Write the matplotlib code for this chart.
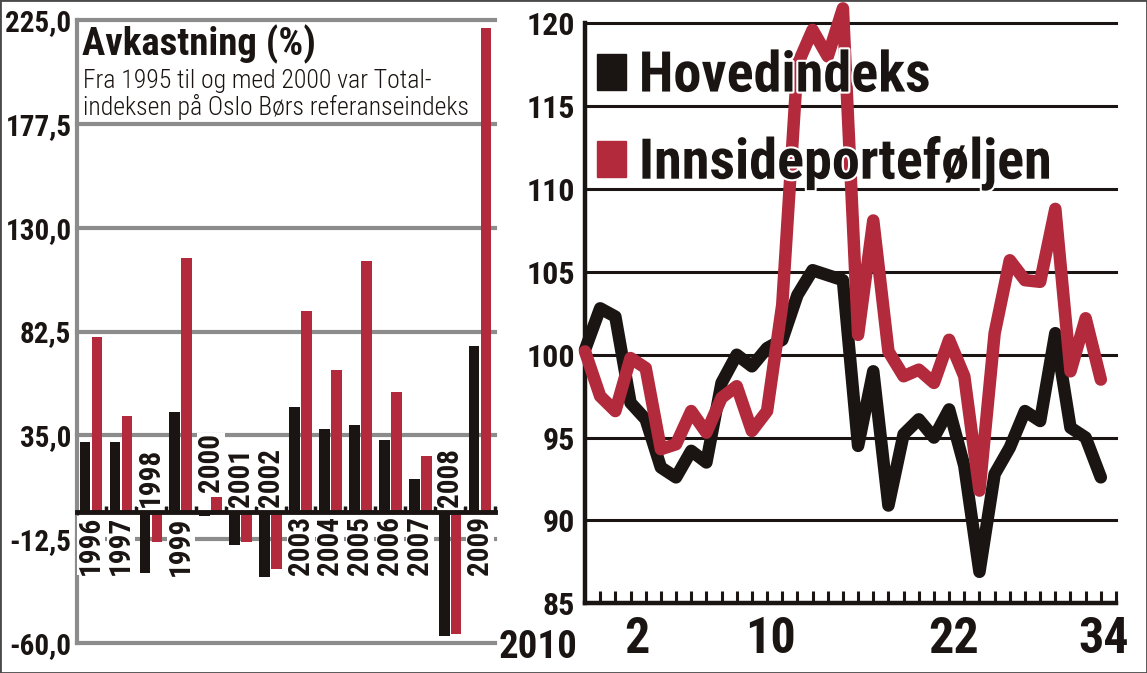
import matplotlib
matplotlib.use("Agg")
import matplotlib.pyplot as plt  # noqa: E402
import matplotlib.patheffects as pe  # noqa: E402
import numpy as np  # noqa: E402
from matplotlib import font_manager  # noqa: E402
from matplotlib.patches import Patch, Rectangle  # noqa: E402

BLACK = "#1a1512"
RED = "#b22a3b"
GREY = "#8c8c8c"

_installed = {f.name for f in font_manager.fontManager.ttflist}


def pick(*cands):
    for c in cands:
        if c in _installed:
            return c
    return "DejaVu Sans"


COND = pick("Roboto Condensed", "Barlow Condensed", "IBM Plex Sans Condensed",
            "Open Sans Condensed")

# left panel: yearly return (%)
YEARS = ["1996", "1997", "1998", "1999", "2000", "2001", "2002",
         "2003", "2004", "2005", "2006", "2007", "2008", "2009"]
HOVED_AAR = [31.9, 31.9, -28.0, 45.7, -1.8, -15.0, -30.0,
             48.0, 38.0, 39.8, 32.9, 15.1, -57.0, 75.9]
INNSIDE_AAR = [80.2, 43.9, -13.9, 116.3, 7.0, -13.9, -26.2,
               91.9, 65.0, 114.8, 54.9, 25.6, -55.8, 221.3]
Y_TICKS_LEFT = [-60.0, -12.5, 35.0, 82.5, 130.0, 177.5, 225.0]

# right panel: weekly index level, 2010
HOVED_UKE = [100.3, 102.8, 102.3, 97.1, 96.1, 93.2, 92.6, 94.2, 93.5, 98.3,
             100.0, 99.3, 100.4, 100.9, 103.6, 105.1, 104.8, 104.5, 94.5, 99.0,
             90.9, 95.2, 96.1, 95.0, 96.7, 93.3, 86.9, 92.8, 94.4, 96.6,
             96.0, 101.3, 95.6, 95.0, 92.6]
INNSIDE_UKE = [100.2, 97.5, 96.6, 99.8, 99.2, 94.3, 94.6, 96.6, 95.3, 97.4,
               98.1, 95.4, 96.6, 103.0, 117.5, 119.6, 118.0, 120.9, 101.2, 108.1,
               100.2, 98.7, 99.1, 98.3, 100.9, 98.7, 91.8, 101.3, 105.7, 104.5,
               104.4, 108.8, 99.0, 102.2, 98.5]
UKE_LABELS = ["2", "10", "22", "34"]
UKE_LABEL_POS = [3.4, 12.2, 24.3, 34.2]
Y_TICKS_RIGHT = [85, 90, 95, 100, 105, 110, 115, 120]

W, H = 1147, 673
fig = plt.figure(figsize=(W / 100, H / 100), dpi=100)


def px_axes(x0, y0, x1, y1):
    return fig.add_axes([x0 / W, 1 - y1 / H, (x1 - x0) / W, (y1 - y0) / H])


def fy(y):
    return 1 - y / H


bold = dict(family=COND, fontweight="bold", color=BLACK)

# ---- left: bars -------------------------------------------------------------
ax1 = px_axes(77, 20, 495, 643)
x = np.arange(len(YEARS))
ax1.bar(x - 0.2, HOVED_AAR, width=0.36, color=BLACK, zorder=2)
ax1.bar(x + 0.2, INNSIDE_AAR, width=0.36, color=RED, zorder=2)
ax1.set_xlim(-0.47, len(YEARS) - 0.5)
ax1.set_ylim(Y_TICKS_LEFT[0], Y_TICKS_LEFT[-1])
ax1.set_yticks(Y_TICKS_LEFT)
ax1.set_yticklabels([f"{v:.1f}".replace(".", ",") for v in Y_TICKS_LEFT],
                    fontsize=21, **bold)
ax1.tick_params(axis="y", length=0, pad=4)
ax1.grid(axis="y", color=GREY, lw=3)
ax1.set_axisbelow(True)
for ln in ax1.get_ygridlines():
    ln.set_clip_on(False)
for s in ("top", "right"):
    ax1.spines[s].set_visible(False)
ax1.spines["left"].set_color(GREY)
ax1.spines["left"].set_linewidth(3)
ax1.spines["bottom"].set_position(("data", 0))
ax1.spines["bottom"].set_color(BLACK)
ax1.spines["bottom"].set_linewidth(3.5)
ax1.set_xticks(x + 0.5)
ax1.tick_params(axis="x", direction="in", length=4, width=2.5, color=BLACK,
                labelbottom=False)

# year labels sit under positive groups, above the others
for i, (yr, h, r) in enumerate(zip(YEARS, HOVED_AAR, INNSIDE_AAR)):
    if min(h, r) >= 0:
        ypos, va = -2.0, "top"
    else:
        ypos, va = max(0.0, h, r) + 2.0, "bottom"
    ax1.text(i, ypos, yr, rotation=90, ha="center", va=va, fontsize=21, zorder=4,
             bbox=dict(facecolor="white", edgecolor="none", pad=0), **bold)

fig.text(82 / W, fy(55), "Avkastning (%)", fontsize=28, va="baseline",
         family=COND, fontweight="heavy", color=BLACK)
fig.text(83 / W, fy(88), "Fra 1995 til og med 2000 var Total-", fontsize=18.5,
         va="baseline", family=COND, fontweight="light", color=BLACK)
fig.text(83 / W, fy(115), "indeksen på Oslo Børs referanseindeks", fontsize=18.5,
         va="baseline", family=COND, fontweight="light", color=BLACK)

# ---- right: lines -----------------------------------------------------------
ax2 = px_axes(585, 23.3, 1116, 603.3)
xs = np.arange(len(HOVED_UKE))
ax2.plot(xs, HOVED_UKE, color=BLACK, lw=9, solid_joinstyle="round",
         solid_capstyle="round", clip_on=False, zorder=3)
ax2.plot(xs, INNSIDE_UKE, color=RED, lw=9, solid_joinstyle="round",
         solid_capstyle="round", clip_on=False, zorder=4)
ax2.set_xlim(0, 35)
ax2.set_ylim(Y_TICKS_RIGHT[0], Y_TICKS_RIGHT[-1])
ax2.set_yticks(Y_TICKS_RIGHT)
ax2.set_yticklabels([str(v) for v in Y_TICKS_RIGHT], fontsize=23, **bold)
ax2.tick_params(axis="y", length=0, pad=7)
ax2.grid(axis="y", color=BLACK, lw=2.2)
ax2.set_axisbelow(True)
for ln in ax2.get_ygridlines():
    ln.set_clip_on(False)
for s in ("top", "right"):
    ax2.spines[s].set_visible(False)
for s in ("left", "bottom"):
    ax2.spines[s].set_color(BLACK)
    ax2.spines[s].set_linewidth(3.2)
ax2.set_xticks(UKE_LABEL_POS)
ax2.set_xticklabels(UKE_LABELS, fontsize=36, **bold)
ax2.set_xticks(np.arange(1, 36), minor=True)
ax2.tick_params(axis="x", which="major", length=0, pad=9)
ax2.tick_params(axis="x", which="minor", direction="in", length=8.5, width=2.2,
                color=BLACK)

fig.text(577 / W, fy(658), "2010", fontsize=28, ha="right", va="baseline", **bold)

leg = ax2.legend(handles=[Patch(color=BLACK, label="Hovedindeks"),
                          Patch(color=RED, label="Innsideporteføljen")],
                 loc="upper left", bbox_to_anchor=(0.022, 0.953), borderaxespad=0,
                 borderpad=0, frameon=False, handlelength=0.52, handleheight=0.6,
                 handletextpad=0.23, labelspacing=0.6,
                 prop=dict(family=COND, weight="heavy", size=40.5))
for t in leg.get_texts():
    t.set_color(BLACK)
    t.set_path_effects([pe.withStroke(linewidth=3, foreground="white")])

fig.add_artist(Rectangle((0, 0), 1, 1, transform=fig.transFigure, fill=False,
                         edgecolor="#4a4a4a", lw=2))

fig.savefig("out.png", dpi=100)
